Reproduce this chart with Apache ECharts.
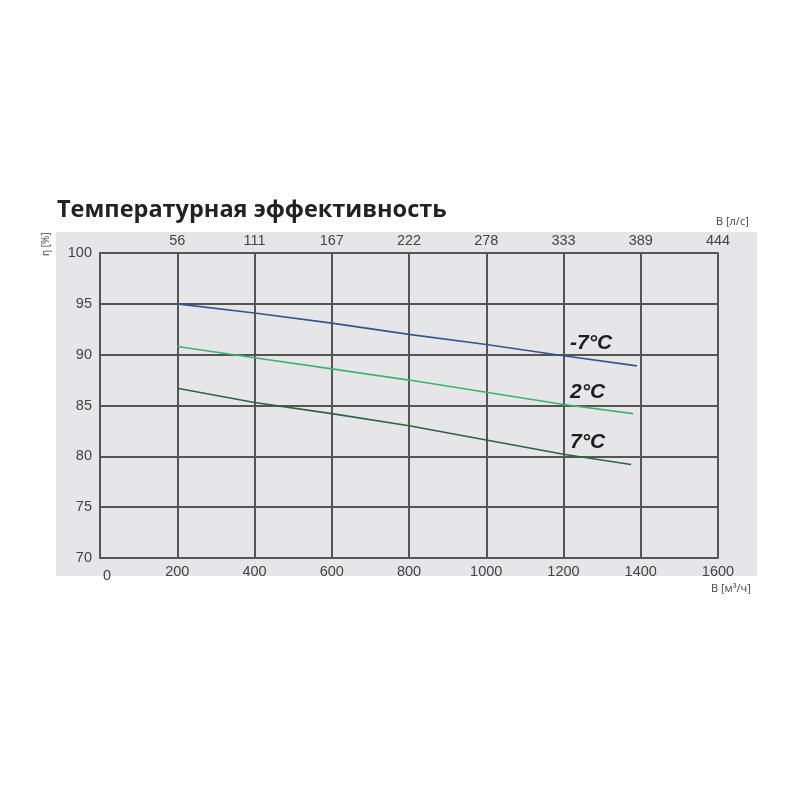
<!DOCTYPE html>
<html>
<head>
<meta charset="utf-8">
<script src="https://cdn.jsdelivr.net/npm/echarts@6/dist/echarts.min.js"></script>
<style>html,body{margin:0;padding:0;background:#fff;}#c{width:800px;height:800px;}</style>
</head>
<body>
<div id="c"></div>
<script>
var flowM3h = [200, 400, 600, 800, 1000, 1200];
var seriesNames = ['-7°C', '2°C', '7°C'];
var endFlows = [1390, 1380, 1375];
var effMinus7 = [95.0, 94.1, 93.1, 92.0, 91.0, 89.9, 88.9];
var eff2 = [90.8, 89.7, 88.6, 87.5, 86.3, 85.1, 84.2];
var eff7 = [86.7, 85.3, 84.2, 83.0, 81.6, 80.2, 79.2];
var bottomTicks = ['0', '200', '400', '600', '800', '1000', '1200', '1400', '1600'];
var topTicks = ['', '56', '111', '167', '222', '278', '333', '389', '444'];
var yTicks = [70, 75, 80, 85, 90, 95, 100];

var colors = ['#34558f', '#3db36e', '#2b6345'];
var allEff = [effMinus7, eff2, eff7];

function build(i) {
  var xs = flowM3h.concat([endFlows[i]]);
  return xs.map(function (x, k) { return [x, allEff[i][k]]; });
}

var chart = echarts.init(document.getElementById('c'), null, { renderer: 'canvas' });
var axisFont = { fontFamily: 'Liberation Sans', fontSize: 14.5, color: '#444' };
chart.setOption({
  animation: false,
  backgroundColor: '#fff',
  graphic: [
    { type: 'rect', left: 56, top: 232, shape: { width: 701, height: 344 }, style: { fill: '#e6e6e8' }, z: -10 },
    { type: 'text', left: 57, top: 198, style: { text: 'Температурная эффективность', font: 'bold 23.5px "Open Sans"', fill: '#222' } },
    { type: 'text', left: 716, top: 216, style: { text: 'B [л/с]', font: '11px "Open Sans"', fill: '#444' } },
    { type: 'text', left: 711, top: 583, style: { text: 'B [м³/ч]', font: '11px "Open Sans"', fill: '#444' } },
    { type: 'text', x: 41, y: 256, rotation: Math.PI / 2, style: { text: 'η [%]', font: '10px "Open Sans"', fill: '#444' } }
  ],
  grid: { left: 100, right: 82, top: 253, bottom: 242, containLabel: false },
  xAxis: [
    {
      type: 'value', position: 'bottom', min: 0, max: 1600, interval: 200,
      axisLine: { show: true, lineStyle: { color: '#555', width: 2 } },
      axisTick: { show: false },
      splitLine: { show: true, lineStyle: { color: '#555', width: 2 } },
      axisLabel: Object.assign({
        margin: 6,
        formatter: function (v) {
          var s = bottomTicks[Math.round(v / 200)];
          return v === 0 ? '{z|' + s + '}' : s;
        },
        rich: { z: { fontFamily: 'Liberation Sans', fontSize: 14.5, color: '#444', padding: [4, 0, 0, 14] } }
      }, axisFont)
    },
    {
      type: 'value', position: 'top', min: 0, max: 1600, interval: 200,
      axisLine: { show: true, lineStyle: { color: '#555', width: 2 } },
      axisTick: { show: false },
      splitLine: { show: false },
      axisLabel: Object.assign({
        margin: 5,
        formatter: function (v) { return topTicks[Math.round(v / 200)]; }
      }, axisFont)
    }
  ],
  yAxis: {
    type: 'value', min: yTicks[0], max: yTicks[yTicks.length - 1], interval: 5,
    axisLine: { show: true, lineStyle: { color: '#555', width: 2 } },
    axisTick: { show: false },
    splitLine: { show: true, lineStyle: { color: '#555', width: 2 } },
    axisLabel: Object.assign({ margin: 8 }, axisFont)
  },
  series: seriesNames.map(function (n, i) {
    return {
      name: n, type: 'line', data: build(i), showSymbol: false, symbol: 'none',
      lineStyle: { color: colors[i], width: 1.6 },
      markPoint: {
        symbol: 'circle', symbolSize: 1,
        itemStyle: { color: 'rgba(0,0,0,0)' },
        data: [{
          coord: [1200, allEff[i][5]],
          label: {
            show: true, position: 'right', offset: [1, -12],
            formatter: n,
            fontSize: 21, fontWeight: 'bold', fontStyle: 'italic',
            color: '#1e1e1e', fontFamily: 'Liberation Sans'
          }
        }]
      },
      z: 5
    };
  })
});
</script>
</body>
</html>
